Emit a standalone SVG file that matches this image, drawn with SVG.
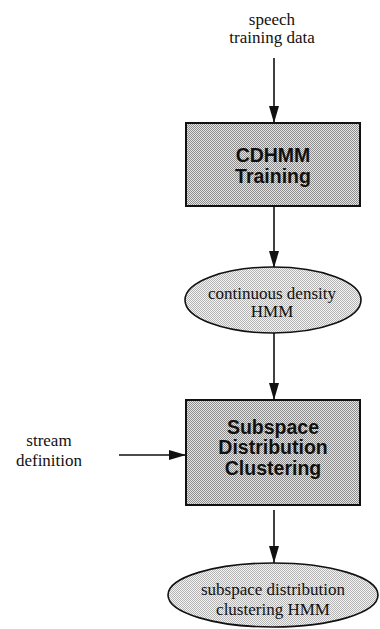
<svg xmlns="http://www.w3.org/2000/svg" width="380" height="629" viewBox="0 0 380 629">
  <style>
    .lbl { font-family: "Liberation Serif", "Times New Roman", serif; font-size: 17px; fill: #111; text-anchor: middle; }
    .proc { font-family: "Liberation Sans", Arial, sans-serif; font-size: 19.5px; font-weight: bold; fill: #111; text-anchor: middle; }
    .box { fill: url(#ditherDark); stroke: #111; stroke-width: 2; }
    .oval { fill: url(#ditherLight); stroke: #111; stroke-width: 1.6; }
    .edge { stroke: #111; stroke-width: 1.6; fill: none; marker-end: url(#arrow); }
  </style>
  <defs>
    <!-- halftone fills -->
    <pattern id="ditherDark" patternUnits="userSpaceOnUse" width="2" height="2">
      <rect width="2" height="2" fill="#e6e6e6"/>
      <rect width="1" height="1" fill="#8c8c8c"/>
      <rect x="1" y="1" width="1" height="1" fill="#8c8c8c"/>
    </pattern>
    <pattern id="ditherLight" patternUnits="userSpaceOnUse" width="2" height="2">
      <rect width="2" height="2" fill="#f4f4f4"/>
      <rect width="1" height="1" fill="#b4b4b4"/>
      <rect x="1" y="1" width="1" height="1" fill="#b4b4b4"/>
    </pattern>
    <marker id="arrow" markerUnits="userSpaceOnUse" markerWidth="18" markerHeight="12" refX="17" refY="5" orient="auto">
      <path d="M0,0 L17,5 L0,10 Z" fill="#111"/>
    </marker>
  </defs>

  <rect width="380" height="629" fill="#fff"/>

  <g id="connectors">
    <line class="edge" x1="274" y1="58" x2="274" y2="123"/>
    <line class="edge" x1="274" y1="206" x2="274" y2="268"/>
    <line class="edge" x1="274" y1="333" x2="274" y2="400"/>
    <line class="edge" x1="119" y1="455" x2="186" y2="455"/>
    <line class="edge" x1="274" y1="510" x2="274" y2="563"/>
  </g>

  <g id="speech-data">
    <text class="lbl" x="272" y="25">speech</text>
    <text class="lbl" x="272" y="43">training data</text>
  </g>

  <g id="cdhmm-training">
    <rect class="box" x="186" y="123" width="174" height="83"/>
    <text class="proc" x="273" y="162">CDHMM</text>
    <text class="proc" x="273" y="183">Training</text>
  </g>

  <g id="cd-hmm">
    <ellipse class="oval" cx="273" cy="300" rx="88" ry="33"/>
    <text class="lbl" x="272" y="299">continuous density</text>
    <text class="lbl" x="272" y="317">HMM</text>
  </g>

  <g id="stream-definition">
    <text class="lbl" x="49" y="446">stream</text>
    <text class="lbl" x="49" y="466">definition</text>
  </g>

  <g id="sdc">
    <rect class="box" x="186" y="400" width="174" height="105"/>
    <text class="proc" x="273" y="434">Subspace</text>
    <text class="proc" x="273" y="454">Distribution</text>
    <text class="proc" x="273" y="475">Clustering</text>
  </g>

  <g id="sdc-hmm">
    <ellipse class="oval" cx="273" cy="595" rx="105" ry="32"/>
    <text class="lbl" x="273" y="595">subspace distribution</text>
    <text class="lbl" x="273" y="615">clustering HMM</text>
  </g>
</svg>
